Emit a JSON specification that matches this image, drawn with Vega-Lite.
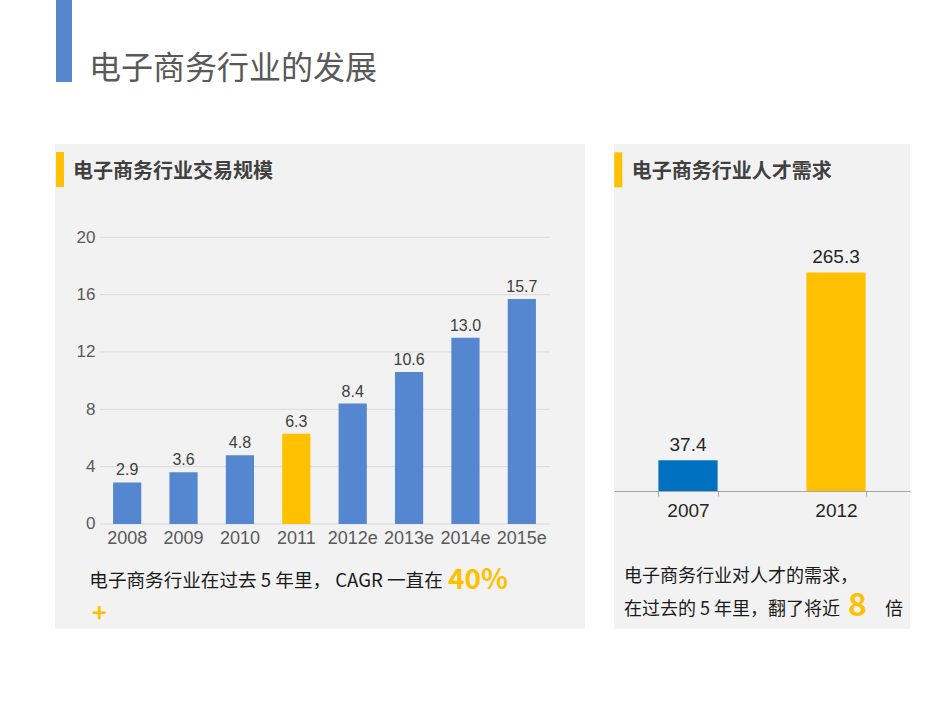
{
  "$schema": "https://vega.github.io/schema/vega-lite/v6.json",
  "background": "white",
  "padding": {"left": 55, "top": 0, "right": 40, "bottom": 84},
  "autosize": {"type": "pad"},
  "title": {"text": "电子商务行业的发展", "anchor": "start", "frame": "bounds", "dx": 34, "offset": -101, "baseline": "middle", "fontSize": 32, "font": "Noto Sans CJK SC", "fontWeight": "normal", "color": "#595959"},
  "config": {"view": {"stroke": null}, "font": "Liberation Sans"},
  "datasets": {
    "scale": [
      {"year": "2008", "value": 2.9},
      {"year": "2009", "value": 3.6},
      {"year": "2010", "value": 4.8},
      {"year": "2011", "value": 6.3},
      {"year": "2012e", "value": 8.4},
      {"year": "2013e", "value": 10.6},
      {"year": "2014e", "value": 13.0},
      {"year": "2015e", "value": 15.7}
    ],
    "talent": [
      {"year": "2007", "demand": 37.4},
      {"year": "2012", "demand": 265.3}
    ]
  },
  "bounds": "flush",
  "spacing": 29,
  "hconcat": [
    {
      "width": 530,
      "height": 485,
      "view": {"fill": "#f2f2f2", "stroke": null},
      "resolve": {"scale": {"x": "independent"}, "axis": {"x": "independent"}},
      "layer": [
        {
          "data": {"values": [{"tick": 0}, {"tick": 4}, {"tick": 8}, {"tick": 12}, {"tick": 16}, {"tick": 20}]},
          "mark": {"type": "rule", "color": "#d9d9d9", "strokeWidth": 1},
          "encoding": {
            "x": {"datum": 0.085, "type": "quantitative", "scale": {"domain": [0, 1], "nice": false, "zero": false}, "axis": null},
            "x2": {"datum": 0.934},
            "y": {"field": "tick", "type": "quantitative", "scale": {"domain": [-7.33, 26.51], "nice": false, "zero": false},
              "axis": {"values": [0, 4, 8, 12, 16, 20], "title": null, "domain": false, "ticks": false, "tickSize": 0, "grid": false, "offset": -42, "labelPadding": 2, "labelFontSize": 17, "labelColor": "#595959", "labelFont": "Liberation Sans"}}
          }
        },
        {
          "data": {"name": "scale"},
          "mark": {"type": "bar"},
          "encoding": {
            "x": {"field": "year", "type": "nominal", "sort": null, "scale": {"type": "band", "paddingInner": 0.5, "paddingOuter": 0.95, "align": 0.542},
              "axis": {"orient": "bottom", "offset": -105, "title": null, "domain": false, "ticks": false, "tickSize": 0, "labelPadding": 5, "labelAngle": 0, "labelFontSize": 18, "labelColor": "#595959", "labelOverlap": false, "grid": false}},
            "y": {"field": "value", "type": "quantitative", "scale": {"domain": [-7.33, 26.51], "nice": false, "zero": false}},
            "color": {"condition": {"test": "datum.year === '2011'", "value": "#FFC000"}, "value": "#5487CF"}
          }
        },
        {
          "data": {"name": "scale"},
          "mark": {"type": "text", "baseline": "bottom", "dy": -4, "fontSize": 16, "color": "#404040", "font": "Liberation Sans"},
          "encoding": {
            "x": {"field": "year", "type": "nominal", "sort": null, "bandPosition": 0.5, "scale": {"type": "band", "paddingInner": 0.5, "paddingOuter": 0.95, "align": 0.542}, "axis": null},
            "y": {"field": "value", "type": "quantitative", "scale": {"domain": [-7.33, 26.51], "nice": false, "zero": false}},
            "text": {"field": "value", "type": "quantitative", "format": ".1f"}
          }
        },
        {
          "data": {"values": [{"part": "page heading accent"}]},
          "mark": {"type": "rect", "color": "#5487CF"},
          "encoding": {
            "x": {"datum": 0.0019, "type": "quantitative", "scale": {"domain": [0, 1], "nice": false, "zero": false}, "axis": null},
            "x2": {"datum": 0.0321},
            "y": {"datum": 36.55, "type": "quantitative", "scale": {"domain": [-7.33, 26.51], "nice": false, "zero": false}},
            "y2": {"datum": 30.835}
          }
        },
        {
          "data": {"values": [{"part": "panel heading accent"}]},
          "mark": {"type": "rect", "color": "#FFC000"},
          "encoding": {
            "x": {"datum": 0.0019, "type": "quantitative", "scale": {"domain": [0, 1], "nice": false, "zero": false}, "axis": null},
            "x2": {"datum": 0.017},
            "y": {"datum": 25.95, "type": "quantitative", "scale": {"domain": [-7.33, 26.51], "nice": false, "zero": false}},
            "y2": {"datum": 23.51}
          }
        },
        {
          "data": {"values": [{"label": "电子商务行业交易规模"}]},
          "mark": {"type": "text", "align": "left", "baseline": "middle", "fontSize": 20, "fontWeight": "bold", "font": "Noto Sans CJK SC", "color": "#404040"},
          "encoding": {
            "x": {"datum": 0.034, "type": "quantitative", "scale": {"domain": [0, 1], "nice": false, "zero": false}, "axis": null},
            "y": {"datum": 24.56, "type": "quantitative", "scale": {"domain": [-7.33, 26.51], "nice": false, "zero": false}},
            "text": {"field": "label"}
          }
        },
        {
          "data": {"values": [{"label": "电子商务行业在过去 5 年里， CAGR 一直在"}]},
          "mark": {"type": "text", "align": "left", "baseline": "middle", "fontSize": 18.6, "font": "Noto Sans CJK SC", "color": "#1a1a1a"},
          "encoding": {
            "x": {"datum": 0.0647, "type": "quantitative", "scale": {"domain": [0, 1], "nice": false, "zero": false}, "axis": null},
            "y": {"datum": -4.0, "type": "quantitative", "scale": {"domain": [-7.33, 26.51], "nice": false, "zero": false}},
            "text": {"field": "label"}
          }
        },
        {
          "data": {"values": [{"label": "40%"}]},
          "mark": {"type": "text", "align": "left", "baseline": "middle", "fontSize": 28, "fontWeight": "bold", "font": "Noto Sans CJK SC", "color": "#FFC000"},
          "encoding": {
            "x": {"datum": 0.7415, "type": "quantitative", "scale": {"domain": [0, 1], "nice": false, "zero": false}, "axis": null},
            "y": {"datum": -3.98, "type": "quantitative", "scale": {"domain": [-7.33, 26.51], "nice": false, "zero": false}},
            "text": {"field": "label"}
          }
        },
        {
          "data": {"values": [{"label": "+"}]},
          "mark": {"type": "text", "align": "left", "baseline": "middle", "fontSize": 25, "fontWeight": "bold", "font": "Noto Sans CJK SC", "color": "#FFC000"},
          "encoding": {
            "x": {"datum": 0.0698, "type": "quantitative", "scale": {"domain": [0, 1], "nice": false, "zero": false}, "axis": null},
            "y": {"datum": -6.25, "type": "quantitative", "scale": {"domain": [-7.33, 26.51], "nice": false, "zero": false}},
            "text": {"field": "label"}
          }
        }
      ]
    },
    {
      "width": 296,
      "height": 485,
      "view": {"fill": "#f2f2f2", "stroke": null},
      "resolve": {"scale": {"x": "independent"}, "axis": {"x": "independent"}},
      "layer": [
        {
          "data": {"name": "talent"},
          "mark": {"type": "bar"},
          "encoding": {
            "x": {"field": "year", "type": "nominal", "sort": null, "scale": {"type": "band", "paddingInner": 0.6, "paddingOuter": 0.3},
              "axis": {"orient": "bottom", "offset": -138, "title": null, "domain": true, "domainColor": "#a6a6a6", "ticks": true, "tickColor": "#a6a6a6", "tickSize": 5, "tickBand": "extent", "labelPadding": 5, "labelAngle": 0, "labelFontSize": 19, "labelColor": "#262626", "grid": false}},
            "y": {"field": "demand", "type": "quantitative", "scale": {"domain": [-167.5, 421.1], "nice": false, "zero": false}, "axis": null},
            "color": {"condition": {"test": "datum.year === '2012'", "value": "#FFC000"}, "value": "#0070C0"}
          }
        },
        {
          "data": {"name": "talent"},
          "mark": {"type": "text", "baseline": "bottom", "dy": -5, "fontSize": 19, "color": "#262626", "font": "Liberation Sans"},
          "encoding": {
            "x": {"field": "year", "type": "nominal", "sort": null, "bandPosition": 0.5, "scale": {"type": "band", "paddingInner": 0.6, "paddingOuter": 0.3}, "axis": null},
            "y": {"field": "demand", "type": "quantitative", "scale": {"domain": [-167.5, 421.1], "nice": false, "zero": false}, "axis": null},
            "text": {"field": "demand", "type": "quantitative", "format": ".1f"}
          }
        },
        {
          "data": {"values": [{"part": "panel heading accent"}]},
          "mark": {"type": "rect", "color": "#FFC000"},
          "encoding": {
            "x": {"datum": 0.001, "type": "quantitative", "scale": {"domain": [0, 1], "nice": false, "zero": false}, "axis": null},
            "x2": {"datum": 0.028},
            "y": {"datum": 411.0, "type": "quantitative", "scale": {"domain": [-167.5, 421.1], "nice": false, "zero": false}, "axis": null},
            "y2": {"datum": 368.5}
          }
        },
        {
          "data": {"values": [{"label": "电子商务行业人才需求"}]},
          "mark": {"type": "text", "align": "left", "baseline": "middle", "fontSize": 20, "fontWeight": "bold", "font": "Noto Sans CJK SC", "color": "#404040"},
          "encoding": {
            "x": {"datum": 0.0598, "type": "quantitative", "scale": {"domain": [0, 1], "nice": false, "zero": false}, "axis": null},
            "y": {"datum": 387.5, "type": "quantitative", "scale": {"domain": [-167.5, 421.1], "nice": false, "zero": false}, "axis": null},
            "text": {"field": "label"}
          }
        },
        {
          "data": {"values": [{"label": "电子商务行业对人才的需求，"}]},
          "mark": {"type": "text", "align": "left", "baseline": "middle", "fontSize": 18, "font": "Noto Sans CJK SC", "color": "#1a1a1a"},
          "encoding": {
            "x": {"datum": 0.0338, "type": "quantitative", "scale": {"domain": [0, 1], "nice": false, "zero": false}, "axis": null},
            "y": {"datum": -104.0, "type": "quantitative", "scale": {"domain": [-167.5, 421.1], "nice": false, "zero": false}, "axis": null},
            "text": {"field": "label"}
          }
        },
        {
          "data": {"values": [{"label": "在过去的 5 年里，翻了将近"}]},
          "mark": {"type": "text", "align": "left", "baseline": "middle", "fontSize": 18, "font": "Noto Sans CJK SC", "color": "#1a1a1a"},
          "encoding": {
            "x": {"datum": 0.0338, "type": "quantitative", "scale": {"domain": [0, 1], "nice": false, "zero": false}, "axis": null},
            "y": {"datum": -144.4, "type": "quantitative", "scale": {"domain": [-167.5, 421.1], "nice": false, "zero": false}, "axis": null},
            "text": {"field": "label"}
          }
        },
        {
          "data": {"values": [{"label": "8"}]},
          "mark": {"type": "text", "align": "center", "baseline": "middle", "fontSize": 32, "fontWeight": "bold", "font": "Noto Sans CJK SC", "color": "#FFC000"},
          "encoding": {
            "x": {"datum": 0.8226, "type": "quantitative", "scale": {"domain": [0, 1], "nice": false, "zero": false}, "axis": null},
            "y": {"datum": -140.0, "type": "quantitative", "scale": {"domain": [-167.5, 421.1], "nice": false, "zero": false}, "axis": null},
            "text": {"field": "label"}
          }
        },
        {
          "data": {"values": [{"label": "倍"}]},
          "mark": {"type": "text", "align": "left", "baseline": "middle", "fontSize": 18, "font": "Noto Sans CJK SC", "color": "#1a1a1a"},
          "encoding": {
            "x": {"datum": 0.9155, "type": "quantitative", "scale": {"domain": [0, 1], "nice": false, "zero": false}, "axis": null},
            "y": {"datum": -144.4, "type": "quantitative", "scale": {"domain": [-167.5, 421.1], "nice": false, "zero": false}, "axis": null},
            "text": {"field": "label"}
          }
        }
      ]
    }
  ]
}
